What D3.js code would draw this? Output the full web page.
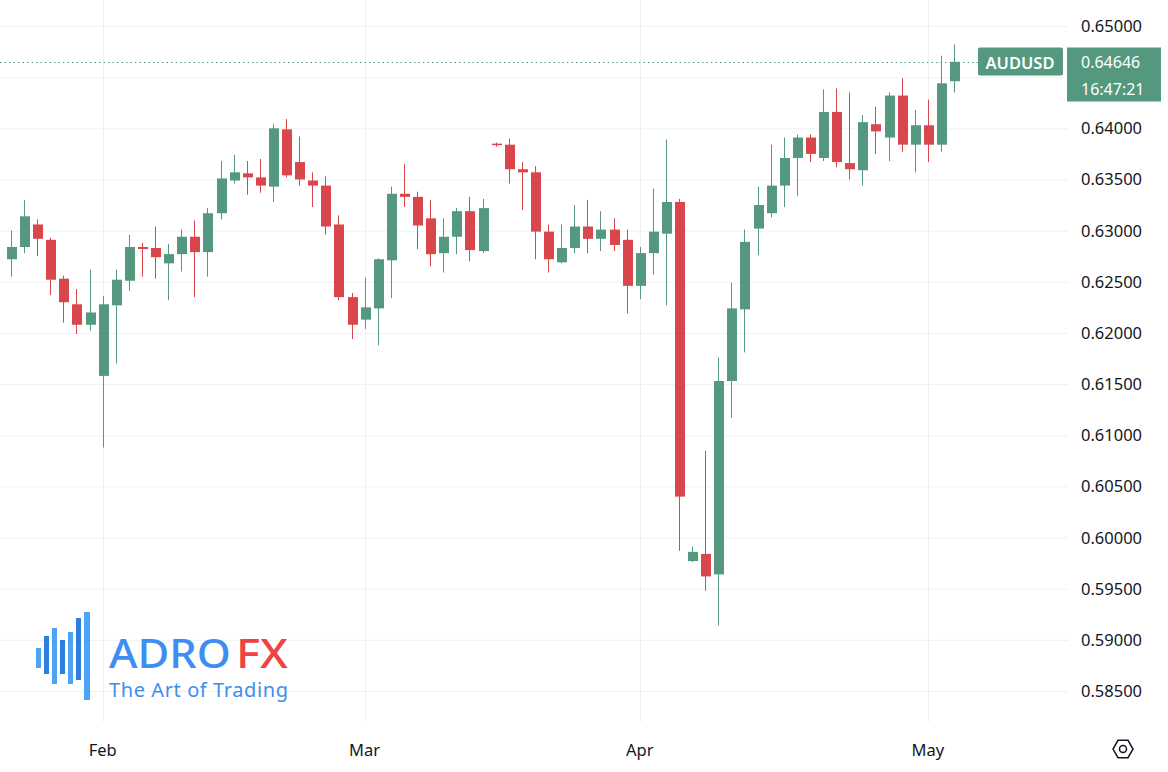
<!DOCTYPE html>
<html><head><meta charset="utf-8">
<script src="https://cdn.jsdelivr.net/npm/d3@7/dist/d3.min.js"></script>
<style>body{margin:0;background:#fff}svg{display:block;font-family:"Noto Sans",Roboto,sans-serif}</style>
</head><body><svg id="c" width="1168" height="772"></svg>
<script>
const opens  = [0.6272,0.6284,0.6306,0.6291,0.6253,0.6228,0.6208,0.6158,0.6227,0.6251,0.6284,0.6283,0.6268,0.6277,0.6294,0.6279,0.6317,0.6349,0.6356,0.6352,0.6343,0.6399,0.6367,0.6349,0.6344,0.6306,0.6235,0.6213,0.6224,0.6271,0.6336,0.6333,0.6312,0.6278,0.6294,0.6319,0.6280,0.6385,0.6384,0.6360,0.6357,0.6299,0.6269,0.6283,0.6304,0.6292,0.6301,0.6291,0.6246,0.6278,0.6297,0.6328,0.5977,0.5984,0.5964,0.6153,0.6223,0.6302,0.6317,0.6344,0.6371,0.6391,0.6371,0.6416,0.6366,0.6359,0.6404,0.6391,0.6432,0.6384,0.6403,0.6384,0.6446];
const highs  = [0.6300,0.6330,0.6311,0.6293,0.6256,0.6243,0.6262,0.6236,0.6262,0.6296,0.6288,0.6304,0.6287,0.6301,0.6310,0.6322,0.6368,0.6374,0.6368,0.6370,0.6404,0.6409,0.6392,0.6357,0.6353,0.6315,0.6239,0.6254,0.6273,0.6343,0.6365,0.6338,0.6330,0.6312,0.6322,0.6333,0.6331,0.6386,0.6390,0.6367,0.6363,0.6306,0.6306,0.6325,0.6330,0.6319,0.6312,0.6301,0.6284,0.6341,0.6389,0.6331,0.5991,0.6085,0.6176,0.6249,0.6301,0.6343,0.6384,0.6391,0.6394,0.6394,0.6438,0.6439,0.6435,0.6413,0.6421,0.6435,0.6449,0.6418,0.6428,0.6471,0.6482];
const lows   = [0.6255,0.6278,0.6275,0.6237,0.6210,0.6199,0.6202,0.6088,0.6170,0.6241,0.6255,0.6253,0.6232,0.6260,0.6235,0.6255,0.6311,0.6346,0.6335,0.6337,0.6328,0.6352,0.6344,0.6323,0.6296,0.6232,0.6194,0.6204,0.6188,0.6234,0.6323,0.6282,0.6265,0.6259,0.6277,0.6270,0.6278,0.6382,0.6346,0.6320,0.6272,0.6259,0.6268,0.6278,0.6278,0.6280,0.6280,0.6219,0.6233,0.6257,0.6227,0.5987,0.5976,0.5948,0.5914,0.6117,0.6181,0.6276,0.6313,0.6323,0.6334,0.6367,0.6368,0.6362,0.6350,0.6344,0.6375,0.6368,0.6377,0.6357,0.6367,0.6377,0.6435];
const closes = [0.6284,0.6314,0.6292,0.6252,0.6230,0.6208,0.6220,0.6228,0.6252,0.6284,0.6282,0.6274,0.6277,0.6294,0.6279,0.6317,0.6351,0.6357,0.6352,0.6344,0.6400,0.6354,0.6350,0.6344,0.6304,0.6235,0.6208,0.6225,0.6272,0.6336,0.6333,0.6305,0.6277,0.6294,0.6319,0.6281,0.6322,0.6384,0.6360,0.6357,0.6299,0.6272,0.6283,0.6304,0.6292,0.6301,0.6286,0.6246,0.6278,0.6299,0.6328,0.6040,0.5986,0.5962,0.6153,0.6224,0.6289,0.6325,0.6344,0.6371,0.6391,0.6375,0.6416,0.6367,0.6360,0.6406,0.6397,0.6432,0.6384,0.6403,0.6384,0.6444,0.6465];
const monthLabels = [{i:7,t:"Feb"},{i:27,t:"Mar"},{i:48,t:"Apr"},{i:70,t:"May"}];
const priceTicks = [0.585,0.59,0.595,0.60,0.605,0.61,0.615,0.62,0.625,0.63,0.635,0.64,0.645,0.65];
const lastPrice = 0.64646, symbol = "AUDUSD", countdown = "16:47:21";

const UP="#53987f", DN="#d9474d";
const svg=d3.select("#c");
const W=1068, H=722;
const x=d3.scaleLinear().domain([-0.84,80.7]).range([0,W]);
const y=d3.scaleLinear().domain([0.585,0.65]).range([691,26]);
const ly=Math.round(y(lastPrice))+0.5;

svg.append("g").selectAll("line").data(priceTicks).join("line")
 .attr("x1",0).attr("x2",W).attr("y1",d=>y(d)+0.5).attr("y2",d=>y(d)+0.5).attr("stroke","#f0f1f3");
svg.append("g").selectAll("line").data(monthLabels).join("line")
 .attr("x1",d=>Math.round(x(d.i))+0.5).attr("x2",d=>Math.round(x(d.i))+0.5).attr("y1",0).attr("y2",H).attr("stroke","#f0f1f3");

const lg=svg.append("g");
const bars=[[36,648,5,20],[44,636,5,38],[52,628,5,56],[60,640,5,34],[68,632,5,52],[76,618,5,62],[84,612,6,88]];
lg.selectAll("rect").data(bars).join("rect").attr("x",d=>d[0]).attr("y",d=>d[1]).attr("width",d=>d[2]).attr("height",d=>d[3]).attr("fill",(d,i)=>i%2?"#2f7de1":"#4da3f5");
lg.append("text").attr("x",109).attr("y",668).attr("font-size",40).attr("font-weight",500).attr("fill","#3d8ef0").attr("textLength",122).attr("lengthAdjust","spacingAndGlyphs").text("ADRO");
lg.append("text").attr("x",236).attr("y",668).attr("font-size",40).attr("font-weight",500).attr("fill","#ef4343").attr("textLength",52).attr("lengthAdjust","spacingAndGlyphs").text("FX");
lg.append("text").attr("x",109).attr("y",697).attr("font-size",20).attr("fill","#3d8ef0").attr("textLength",179).text("The Art of Trading");

const data=opens.map((o,i)=>({i,o,h:highs[i],l:lows[i],c:closes[i]}));
const g=svg.append("g");
g.selectAll("line").data(data).join("line")
 .attr("x1",d=>Math.round(x(d.i))+0.5).attr("x2",d=>Math.round(x(d.i))+0.5)
 .attr("y1",d=>y(d.h)).attr("y2",d=>y(d.l)).attr("stroke",d=>d.c>=d.o?UP:DN).attr("stroke-width",1);
g.selectAll("rect").data(data).join("rect")
 .attr("x",d=>Math.round(x(d.i))-4).attr("width",10)
 .attr("y",d=>y(Math.max(d.o,d.c))).attr("height",d=>Math.max(1.5,Math.abs(y(d.o)-y(d.c))))
 .attr("fill",d=>d.c>=d.o?UP:DN);

svg.append("line").attr("x1",0).attr("x2",978).attr("y1",ly).attr("y2",ly).attr("stroke",UP).attr("stroke-dasharray","1.5,3");

// tick labels hidden where the last-price tag covers them
svg.append("g").selectAll("text").data(priceTicks.filter(d=>y(d)<ly-25||y(d)>ly+45)).join("text")
 .attr("x",1081).attr("y",d=>y(d)+6).attr("font-size",16.5).attr("fill","#131722").text(d=>d.toFixed(5));

svg.append("g").selectAll("text").data(monthLabels).join("text")
 .attr("x",d=>x(d.i)).attr("y",756).attr("text-anchor","middle").attr("font-size",16.5).attr("fill","#131722").text(d=>d.t);

svg.append("rect").attr("x",978).attr("y",ly-15).attr("width",85).attr("height",28).attr("rx",2).attr("fill",UP);
svg.append("text").attr("x",1020).attr("y",ly+6).attr("text-anchor","middle").attr("font-size",16.5).attr("font-weight",600).attr("fill","#fff").text(symbol);
svg.append("rect").attr("x",1067).attr("y",ly-15).attr("width",94).attr("height",54).attr("fill",UP);
svg.append("text").attr("x",1081).attr("y",ly+5).attr("font-size",16).attr("fill","#fff").text(lastPrice.toFixed(5));
svg.append("text").attr("x",1081).attr("y",ly+32).attr("font-size",16).attr("fill","#fff").text(countdown);

const cx=1123, cy=749;
const hex=d3.range(6).map(k=>{const a=Math.PI/3*k; return [cx+10*Math.cos(a), cy+10*Math.sin(a)];});
svg.append("polygon").attr("points",hex.map(p=>p.join(",")).join(" ")).attr("fill","none").attr("stroke","#131722").attr("stroke-width",1.5);
svg.append("circle").attr("cx",cx).attr("cy",cy).attr("r",3.5).attr("fill","none").attr("stroke","#131722").attr("stroke-width",1.5);
</script></body></html>
